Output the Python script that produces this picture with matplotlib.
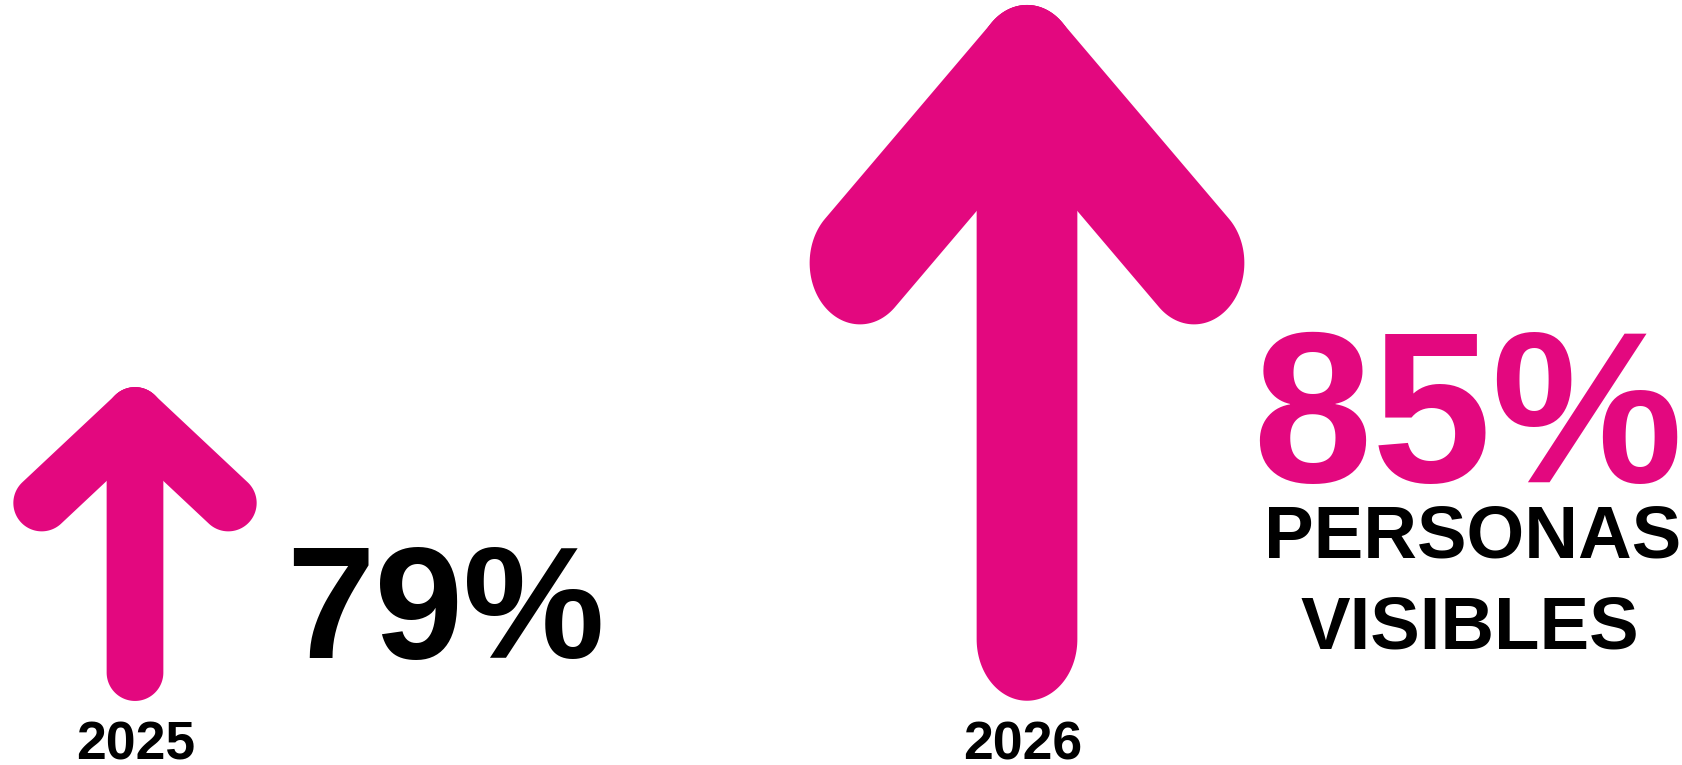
import numpy as np
import matplotlib
matplotlib.use("Agg")
import matplotlib.pyplot as plt
from matplotlib.patches import Polygon

# ---- data ----
years = ["2025", "2026"]
values = [79, 85]
value_labels = [f"{v}%" for v in values]
caption_lines = ["PERSONAS", "VISIBLES"]

# ---- style ----
PINK = "#E3087F"
BLACK = "#000000"
FONT = "Liberation Sans"

W, H = 1683, 765
fig = plt.figure(figsize=(W / 100, H / 100), dpi=100)
ax = fig.add_axes([0, 0, 1, 1])
ax.set_xlim(0, W)
ax.set_ylim(H, 0)
ax.axis("off")


def capsule(p, q, r, n=80):
    p = np.asarray(p, float)
    q = np.asarray(q, float)
    d = q - p
    a = np.arctan2(d[1], d[0])
    t1 = np.linspace(a - np.pi / 2, a + np.pi / 2, n)
    t2 = np.linspace(a + np.pi / 2, a + 3 * np.pi / 2, n)
    arc_q = np.column_stack([q[0] + r * np.cos(t1), q[1] + r * np.sin(t1)])
    arc_p = np.column_stack([p[0] + r * np.cos(t2), p[1] + r * np.sin(t2)])
    return np.vstack([arc_q, arc_p])


def draw_arrow(ax, apex, arm_dx, arm_dv, shaft_v, r, k, color):
    """Stroke-style up arrow built in unstretched space, then stretched
    vertically by k about the apex."""
    ax0, ay0 = apex
    origin = (ax0, 0.0)
    segs = [
        (origin, (ax0 - arm_dx, arm_dv)),
        (origin, (ax0 + arm_dx, arm_dv)),
        (origin, (ax0, shaft_v)),
    ]
    for p, q in segs:
        pts = capsule(p, q, r)
        pts[:, 1] = ay0 + k * pts[:, 1]
        ax.add_patch(Polygon(pts, closed=True, facecolor=color,
                             edgecolor="none", linewidth=0))


# small arrow (2025)
draw_arrow(ax, apex=(135, 415.5), arm_dx=93.3, arm_dv=87.5, shaft_v=257.1,
           r=28.35, k=1.0, color=PINK)
# big arrow (2026)
draw_arrow(ax, apex=(1027, 66.4), arm_dx=167, arm_dv=161.1, shaft_v=469.6,
           r=50.35, k=1.22, color=PINK)

# year labels
ax.text(135.8, 760, years[0], fontsize=38.5, fontweight="bold", family=FONT,
        color=BLACK, ha="center", va="baseline")
ax.text(1022.5, 759, years[1], fontsize=38.5, fontweight="bold", family=FONT,
        color=BLACK, ha="center", va="baseline")

# value labels
ax.text(445.5, 658, value_labels[0], fontsize=114.6, fontweight="bold",
        family=FONT, color=BLACK, ha="center", va="baseline")
ax.text(1467.5, 482, value_labels[1], fontsize=155, fontweight="bold",
        family=FONT, color=PINK, ha="center", va="baseline")

# caption
ax.text(1472.5, 557.5, caption_lines[0], fontsize=53.6, fontweight="bold",
        family=FONT, color=BLACK, ha="center", va="baseline")
ax.text(1470, 649, caption_lines[1], fontsize=53.6, fontweight="bold",
        family=FONT, color=BLACK, ha="center", va="baseline")

fig.savefig("out.png", dpi=100, facecolor="white")
